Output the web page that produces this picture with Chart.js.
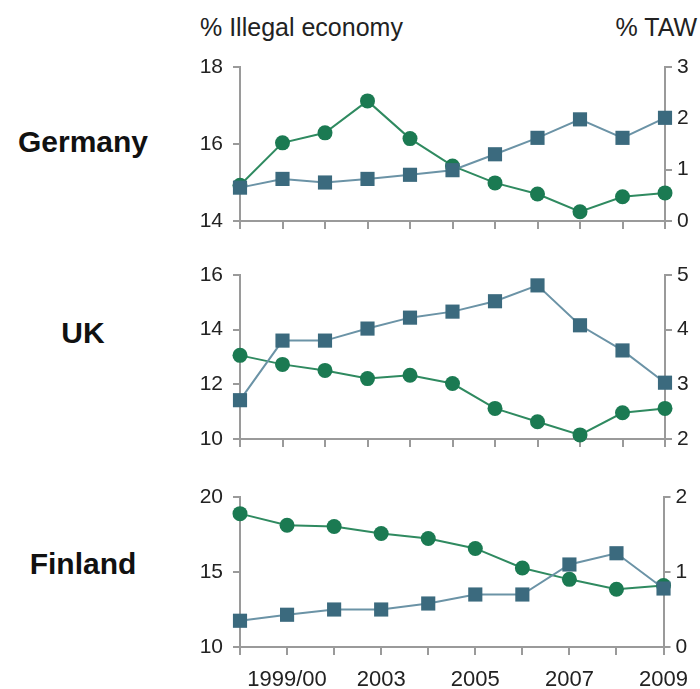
<!DOCTYPE html>
<html>
<head>
<meta charset="utf-8">
<script src="https://cdn.jsdelivr.net/npm/chart.js@4.4.1/dist/chart.umd.min.js"></script>
<style>
  body { margin: 0; background: #fff; }
  #wrap { position: relative; width: 700px; height: 689px; font-family: 'Liberation Sans', Arial, sans-serif; color: #222; }
  .hdr { position: absolute; font-size: 25px; line-height: 25px; white-space: nowrap; }
  .country { position: absolute; left: 0; width: 166px; text-align: center; font-weight: bold; font-size: 30px; line-height: 30px; color: #111; }
  canvas { position: absolute; left: 0; }
</style>
</head>
<body>
<div id="wrap">
  <div class="hdr" style="left:200px; top:15px;">% Illegal economy</div>
  <div class="hdr" style="right:3px; top:15px;">% TAW</div>
  <div class="country" style="top:127px;">Germany</div>
  <div class="country" style="top:318px;">UK</div>
  <div class="country" style="top:549px;">Finland</div>
  <canvas id="germany" width="700" height="183" style="top:50px"></canvas>
  <canvas id="uk" width="700" height="196" style="top:255px"></canvas>
  <canvas id="finland" width="700" height="219" style="top:470px"></canvas>
</div>
<script>
// Data

// Germany / UK: 11 survey points, Finland: 10
const germanyYears = ['1997/98', '1999/00', '2000/01', '2001/02', '2003', '2004', '2005', '2006', '2007', '2008', '2009'];
const germanyIllegal = [14.93, 16.03, 16.29, 17.12, 16.14, 15.43, 14.99, 14.70, 14.24, 14.63, 14.73];
const germanyTaw = [0.65, 0.82, 0.75, 0.82, 0.90, 0.99, 1.30, 1.62, 1.98, 1.62, 2.01];
const germanyLeftTicks = [14, 16, 18];
const germanyRightTicks = [0, 1, 2, 3];

const ukYears = ['1997/98', '1999/00', '2000/01', '2001/02', '2003', '2004', '2005', '2006', '2007', '2008', '2009'];
const ukIllegal = [13.06, 12.73, 12.51, 12.21, 12.33, 12.03, 11.12, 10.63, 10.15, 10.96, 11.12];
const ukTaw = [2.71, 3.80, 3.80, 4.02, 4.22, 4.33, 4.52, 4.81, 4.08, 3.62, 3.03];
const ukLeftTicks = [10, 12, 14, 16];
const ukRightTicks = [2, 3, 4, 5];

const finlandYears = ['1997/98', '1999/00', '2001/02', '2003', '2004', '2005', '2006', '2007', '2008', '2009'];
const finlandIllegal = [18.89, 18.12, 18.03, 17.57, 17.23, 16.57, 15.27, 14.51, 13.85, 14.10];
const finlandTaw = [0.35, 0.43, 0.50, 0.50, 0.58, 0.70, 0.70, 1.10, 1.25, 0.78];
const finlandLeftTicks = [10, 15, 20];
const finlandRightTicks = [0, 1, 2];

// year labels printed under the bottom panel
const shownYears = ['1999/00', '2003', '2005', '2007', '2009'];

const GREEN = '#1b7a52';
const GREEN_LINE = '#2f8a60';
const BLUE = '#3b6a7e';
const BLUE_LINE = '#6b93a6';
const AXIS = '#9a9a9a';
const FAMILY = "'Liberation Sans', Arial, sans-serif";

function yAxis(position, tickValues, width, pad) {
    return {
        type: 'linear',
        position: position,
        min: tickValues[0],
        max: tickValues[tickValues.length - 1],
        afterBuildTicks: function(scale) {
            scale.ticks = tickValues.map(v => ({ value: v }));
        },
        afterFit: function(scale) {
            scale.width = width;
            // plot area is placed by layout padding, not by label overflow
            scale.paddingTop = 0;
            scale.paddingBottom = 0;
        },
        grid: { drawOnChartArea: false, drawTicks: true, tickLength: 7, color: AXIS, lineWidth: 2 },
        border: { display: true, color: AXIS, width: 2 },
        ticks: { font: { family: FAMILY, size: 21 }, color: '#222', padding: pad }
    };
}

function makePanel(id, years, illegal, taw, leftTicks, rightTicks, topPad, showYears) {
    const ctx = document.getElementById(id);
    new Chart(ctx, {
        type: 'line',
        data: {
            labels: years,
            datasets: [
                {
                    label: '% TAW',
                    data: taw,
                    yAxisID: 'yRight',
                    borderColor: BLUE_LINE,
                    borderWidth: 2,
                    backgroundColor: BLUE,
                    pointBackgroundColor: BLUE,
                    pointBorderColor: BLUE,
                    pointStyle: 'rect',
                    pointRadius: 10,
                    pointBorderWidth: 0,
                    tension: 0,
                    clip: false
                },
                {
                    label: '% Illegal economy',
                    data: illegal,
                    yAxisID: 'yLeft',
                    borderColor: GREEN_LINE,
                    borderWidth: 2,
                    backgroundColor: GREEN,
                    pointBackgroundColor: GREEN,
                    pointBorderColor: GREEN,
                    pointStyle: 'circle',
                    pointRadius: 7.5,
                    pointBorderWidth: 0,
                    tension: 0,
                    clip: false
                }
            ]
        },
        options: {
            responsive: false,
            animation: false,
            layout: { padding: { top: topPad, left: 0, right: 0, bottom: 0 } },
            plugins: {
                legend: { display: false },
                tooltip: { enabled: false }
            },
            scales: {
                x: {
                    type: 'category',
                    offset: false,
                    afterFit: function(scale) { scale.height = showYears ? 42 : 12; },
                    grid: { drawOnChartArea: false, drawTicks: true, tickLength: 8, color: AXIS, lineWidth: 2 },
                    border: { display: true, color: AXIS, width: 2 },
                    ticks: {
                        autoSkip: false,
                        maxRotation: 0,
                        padding: 12,
                        font: { family: FAMILY, size: 22 },
                        color: '#222',
                        callback: function(v) {
                            const l = this.getLabelForValue(v);
                            return showYears && shownYears.includes(l) ? l : '';
                        }
                    }
                },
                yLeft: yAxis('left', leftTicks, 240, 10),
                yRight: yAxis('right', rightTicks, 35, 5)
            }
        }
    });
}

makePanel('germany', germanyYears, germanyIllegal, germanyTaw, germanyLeftTicks, germanyRightTicks, 17, false);
makePanel('uk', ukYears, ukIllegal, ukTaw, ukLeftTicks, ukRightTicks, 20, false);
makePanel('finland', finlandYears, finlandIllegal, finlandTaw, finlandLeftTicks, finlandRightTicks, 27, true);
</script>
</body>
</html>
